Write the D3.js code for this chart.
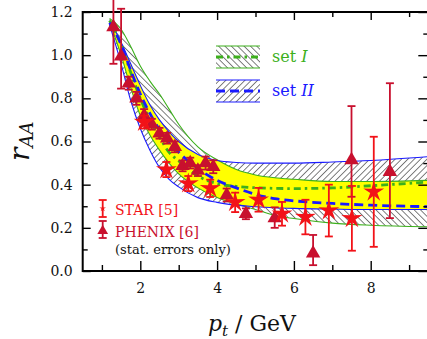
<!DOCTYPE html>
<html>
<head>
<meta charset="utf-8">
<script src="https://cdn.jsdelivr.net/npm/d3@7"></script>
<style>
  body { margin: 0; background: #fff; }
  text { font-family: "DejaVu Serif", serif; }
</style>
</head>
<body>
<script>
// model bands, sampled on a common pt grid
const bandX    = [1.2, 1.5, 1.75, 2.0, 2.25, 2.5, 2.75, 3.0, 3.5, 4.0, 4.5, 5.0, 5.5, 6.0, 7.0, 8.0, 9.5]
const setILo   = [1.15, 1.0, 0.85, 0.72, 0.63, 0.56, 0.50, 0.45, 0.385, 0.34, 0.31, 0.285, 0.258, 0.243, 0.222, 0.212, 0.205]
const setIHi   = [1.17, 1.12, 1.04, 0.95, 0.88, 0.82, 0.75, 0.68, 0.575, 0.515, 0.47, 0.445, 0.432, 0.425, 0.415, 0.415, 0.42]
const setIMid  = [1.16, 1.05, 0.92, 0.80, 0.70, 0.62, 0.55, 0.51, 0.44, 0.405, 0.392, 0.386, 0.383, 0.382, 0.385, 0.395, 0.412]
const setIILo  = [1.14, 0.96, 0.79, 0.66, 0.56, 0.48, 0.425, 0.39, 0.34, 0.318, 0.305, 0.298, 0.293, 0.29, 0.287, 0.285, 0.285]
const setIIHi  = [1.16, 1.06, 0.96, 0.86, 0.77, 0.70, 0.645, 0.60, 0.54, 0.512, 0.503, 0.50, 0.50, 0.50, 0.505, 0.512, 0.53]
const setIIMid = [1.15, 1.05, 0.93, 0.82, 0.73, 0.655, 0.60, 0.55, 0.475, 0.42, 0.385, 0.355, 0.335, 0.325, 0.313, 0.305, 0.298]

// PHENIX [6]
const phenixX     = [1.3, 1.5, 1.7, 1.9, 2.1, 2.3, 2.5, 2.7, 2.9, 3.1, 3.3, 3.5, 3.7, 3.9, 4.25, 4.75, 5.5, 6.5, 7.5, 8.5]
const phenixY     = [1.13, 0.995, 0.87, 0.80, 0.72, 0.68, 0.638, 0.615, 0.575, 0.487, 0.50, 0.465, 0.50, 0.483, 0.352, 0.265, 0.245, 0.082, 0.514, 0.46]
const phenixErrLo = [0.17, 0.15, 0.03, 0.03, 0.03, 0.025, 0.025, 0.025, 0.025, 0.025, 0.025, 0.025, 0.03, 0.03, 0.03, 0.025, 0.045, 0.055, 0.17, 0.215]
const phenixErrHi = [0.2, 0.22, 0.03, 0.03, 0.03, 0.025, 0.025, 0.025, 0.025, 0.025, 0.025, 0.025, 0.03, 0.03, 0.03, 0.025, 0.05, 0.085, 0.25, 0.41]

// STAR [5]
const starX   = [2.1, 2.68, 3.25, 3.82, 4.47, 5.08, 5.69, 6.3, 6.91, 7.51, 8.08]
const starY   = [0.69, 0.47, 0.405, 0.383, 0.318, 0.33, 0.265, 0.25, 0.28, 0.244, 0.367]
const starErr = [0.03, 0.035, 0.035, 0.04, 0.045, 0.055, 0.055, 0.08, 0.12, 0.15, 0.255]

const xTicks = [2, 4, 6, 8]
const xMinor = [1, 3, 5, 7, 9]
const yTicks = [0, 0.2, 0.4, 0.6, 0.8, 1.0, 1.2]
const yMinor = [0.1, 0.3, 0.5, 0.7, 0.9, 1.1]

const W = 427, H = 339
const green = '#3cb01c', blue = '#1a1aff', phenixCol = '#c8102e', starCol = '#f21218'

const x = d3.scaleLinear().domain([0.5, 9.5]).range([82.7, 428.3])
const y = d3.scaleLinear().domain([0, 1.2]).range([271, 12])

const svg = d3.select('body').append('svg').attr('width', W).attr('height', H)
const defs = svg.append('defs')

function hatch(id, angle) {
  defs.append('pattern')
    .attr('id', id)
    .attr('patternUnits', 'userSpaceOnUse')
    .attr('width', 4.5).attr('height', 4.5)
    .attr('patternTransform', `rotate(${angle})`)
    .append('line')
    .attr('x1', 0).attr('y1', 0).attr('x2', 0).attr('y2', 4.5)
    .attr('stroke', '#000').attr('stroke-width', 1)
}
hatch('hatchI', -45)
hatch('hatchII', 45)

defs.append('clipPath').attr('id', 'plotclip')
  .append('rect').attr('x', x(0.5)).attr('y', y(1.2)).attr('width', x(9.5) - x(0.5)).attr('height', y(0) - y(1.2))

const band = (lo, hi) => d3.area()
  .x((d, i) => x(bandX[i]))
  .y0((d, i) => y(lo[i]))
  .y1((d, i) => y(hi[i]))
  .curve(d3.curveMonotoneX)(bandX)
const curve = vals => d3.line()
  .x((d, i) => x(bandX[i]))
  .y((d, i) => y(vals[i]))
  .curve(d3.curveMonotoneX)(bandX)

defs.append('clipPath').attr('id', 'clipII').append('path').attr('d', band(setIILo, setIIHi))

const plot = svg.append('g').attr('clip-path', 'url(#plotclip)')
plot.append('path').attr('d', band(setIILo, setIIHi)).attr('fill', 'url(#hatchII)')
plot.append('path').attr('d', band(setILo, setIHi)).attr('fill', 'url(#hatchI)')
plot.append('g').attr('clip-path', 'url(#clipII)')
  .append('path').attr('d', band(setILo, setIHi)).attr('fill', '#ffff00')

;[setILo, setIHi].forEach(v => plot.append('path').attr('d', curve(v))
  .attr('fill', 'none').attr('stroke', green).attr('stroke-width', 1.1))
;[setIILo, setIIHi].forEach(v => plot.append('path').attr('d', curve(v))
  .attr('fill', 'none').attr('stroke', blue).attr('stroke-width', 1.1))
plot.append('path').attr('d', curve(setIMid))
  .attr('fill', 'none').attr('stroke', green).attr('stroke-width', 2.8).attr('stroke-dasharray', '7,4,2.5,4')
plot.append('path').attr('d', curve(setIIMid))
  .attr('fill', 'none').attr('stroke', blue).attr('stroke-width', 2.8).attr('stroke-dasharray', '9,5')

// axes
function styleAxis(g) {
  g.select('.domain').remove()
  g.selectAll('line').attr('stroke', '#000').attr('stroke-width', 1.4)
  g.selectAll('text').attr('font-family', '"DejaVu Serif", serif').attr('font-size', 14).attr('fill', '#111')
}
svg.append('g').attr('transform', `translate(${x(0.5)},0)`)
  .call(d3.axisLeft(y).tickValues(yTicks).tickSize(-8).tickPadding(10).tickFormat(d3.format('.1f'))).call(styleAxis)
svg.append('g').attr('transform', `translate(${x(0.5)},0)`)
  .call(d3.axisLeft(y).tickValues(yMinor).tickSize(-5).tickFormat('')).call(styleAxis)
svg.append('g').attr('transform', `translate(${x(9.5)},0)`)
  .call(d3.axisRight(y).tickValues(yTicks).tickSize(-10).tickFormat('')).call(styleAxis)
svg.append('g').attr('transform', `translate(${x(9.5)},0)`)
  .call(d3.axisRight(y).tickValues(yMinor).tickSize(-5).tickFormat('')).call(styleAxis)
svg.append('g').attr('transform', `translate(0,${y(0)})`)
  .call(d3.axisBottom(x).tickValues(xTicks).tickSize(-10).tickPadding(12).tickFormat(d3.format('d'))).call(styleAxis)
svg.append('g').attr('transform', `translate(0,${y(0)})`)
  .call(d3.axisBottom(x).tickValues(xMinor).tickSize(-6).tickFormat('')).call(styleAxis)
svg.append('g').attr('transform', `translate(0,${y(1.2)})`)
  .call(d3.axisTop(x).tickValues(xTicks).tickSize(-8).tickFormat('')).call(styleAxis)
svg.append('g').attr('transform', `translate(0,${y(1.2)})`)
  .call(d3.axisTop(x).tickValues(xMinor).tickSize(-5).tickFormat('')).call(styleAxis)

svg.append('rect')
  .attr('x', x(0.5)).attr('y', y(1.2)).attr('width', x(9.5) - x(0.5)).attr('height', y(0) - y(1.2))
  .attr('fill', 'none').attr('stroke', '#000').attr('stroke-width', 2)

// error bars + markers
function errBar(g, px, lo, hi, col) {
  g.append('line').attr('x1', px).attr('x2', px).attr('y1', lo).attr('y2', hi)
    .attr('stroke', col).attr('stroke-width', 1.8)
  ;[lo, hi].forEach(v => g.append('line').attr('x1', px - 4).attr('x2', px + 4).attr('y1', v).attr('y2', v)
    .attr('stroke', col).attr('stroke-width', 1.8))
}
// thin-armed five point star, size = outer radius squared
const thinStar = {
  draw(ctx, size) {
    const R = Math.sqrt(size), r = R * 0.34
    for (let k = 0; k < 10; k++) {
      const a = -Math.PI / 2 + k * Math.PI / 5, rr = k % 2 ? r : R
      k ? ctx.lineTo(rr * Math.cos(a), rr * Math.sin(a)) : ctx.moveTo(rr * Math.cos(a), rr * Math.sin(a))
    }
    ctx.closePath()
  }
}
const tri = d3.symbol().type(d3.symbolTriangle).size(90)
const star = d3.symbol().type(thinStar).size(121)

const gP = svg.append('g')
phenixX.forEach((px, i) => {
  errBar(gP, x(px), y(phenixY[i] - phenixErrLo[i]), y(phenixY[i] + phenixErrHi[i]), phenixCol)
  gP.append('path').attr('d', tri()).attr('transform', `translate(${x(px)},${y(phenixY[i])})`).attr('fill', phenixCol)
})
const gS = svg.append('g')
starX.forEach((sx, i) => {
  errBar(gS, x(sx), y(starY[i] - starErr[i]), y(starY[i] + starErr[i]), starCol)
  gS.append('path').attr('d', star()).attr('transform', `translate(${x(sx)},${y(starY[i])})`).attr('fill', starCol)
})

// legend, upper right
function legBox(top, pat, col, dash, label) {
  const g = svg.append('g')
  g.append('rect').attr('x', 216).attr('y', top).attr('width', 44).attr('height', 22).attr('fill', `url(#${pat})`)
  ;[top, top + 22].forEach(v => g.append('line').attr('x1', 216).attr('x2', 260).attr('y1', v).attr('y2', v)
    .attr('stroke', col).attr('stroke-width', 1.2))
  g.append('line').attr('x1', 216).attr('x2', 260).attr('y1', top + 11).attr('y2', top + 11)
    .attr('stroke', col).attr('stroke-width', 2.8).attr('stroke-dasharray', dash)
  const t = g.append('text').attr('x', 272).attr('y', top + 16).attr('font-size', 16).attr('fill', col)
  t.append('tspan').text('set ')
  t.append('tspan').attr('font-style', 'italic').text(label)
}
legBox(46, 'hatchI', green, '7,4,2.5,4', 'I')
legBox(80, 'hatchII', blue, '9,5', 'II')

// legend, lower left
const lg = svg.append('g')
errBar(lg, 102.7, 217, 200, starCol)
lg.append('path').attr('d', d3.symbol().type(thinStar).size(12)()).attr('transform', 'translate(102.7,208.5)').attr('fill', starCol)
lg.append('text').attr('x', 115).attr('y', 215).attr('font-size', 14).attr('fill', starCol).text('STAR [5]')
errBar(lg, 102.7, 238, 221, phenixCol)
lg.append('path').attr('d', d3.symbol().type(d3.symbolTriangle).size(50)()).attr('transform', 'translate(102.7,231)').attr('fill', phenixCol)
lg.append('text').attr('x', 115).attr('y', 236.5).attr('font-size', 14).attr('fill', phenixCol).text('PHENIX [6]')
lg.append('text').attr('x', 115).attr('y', 254).attr('font-size', 13).attr('fill', '#111').text('(stat. errors only)')

// axis titles
const yl = svg.append('text').attr('transform', 'translate(29,161) rotate(-90)').attr('fill', '#111')
yl.append('tspan').attr('font-style', 'italic').attr('font-size', 28).text('r')
yl.append('tspan').attr('font-style', 'italic').attr('font-size', 18).attr('dy', 4).text('AA')

const xl = svg.append('text').attr('x', 208).attr('y', 331).attr('fill', '#111').attr('font-size', 22)
xl.append('tspan').attr('font-style', 'italic').text('p')
xl.append('tspan').attr('font-style', 'italic').attr('font-size', 15).attr('dy', 5).text('t')
xl.append('tspan').attr('dy', -5).text(' / GeV')
</script>
</body>
</html>
